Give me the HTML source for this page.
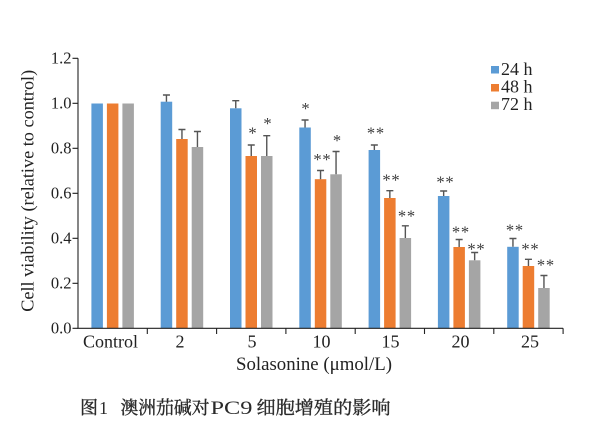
<!DOCTYPE html>
<html>
<head>
<meta charset="utf-8">
<style>
html,body{margin:0;padding:0;background:#fff;}
svg{display:block;}
text{font-family:"Liberation Serif","Noto Serif CJK SC",serif;fill:#222;}
.cap{font-family:"Liberation Serif","Noto Serif CJK SC",serif;fill:#2a2a2a;stroke:#2a2a2a;stroke-width:0.35px;}
.capl{font-family:"Liberation Serif","Noto Serif CJK SC",serif;fill:#2a2a2a;}
.st{font-size:16.5px;fill:#3a3a3a;text-anchor:middle;}
</style>
</head>
<body>
<svg width="612" height="424" viewBox="0 0 612 424" xmlns="http://www.w3.org/2000/svg">
<rect width="612" height="424" fill="#fff"/>

<!-- bars -->
<g fill="#5B9BD5">
<rect x="91.4" y="103.5" width="11.5" height="224.8"/>
<rect x="160.7" y="101.7" width="11.5" height="226.6"/>
<rect x="230.0" y="108.3" width="11.5" height="220"/>
<rect x="299.3" y="127.5" width="11.5" height="200.8"/>
<rect x="368.6" y="150" width="11.5" height="178.3"/>
<rect x="437.9" y="196" width="11.5" height="132.3"/>
<rect x="507.2" y="246.8" width="11.5" height="81.5"/>
</g>
<g fill="#ED7D31">
<rect x="106.9" y="103.5" width="11.5" height="224.8"/>
<rect x="176.2" y="139" width="11.5" height="189.3"/>
<rect x="245.5" y="156" width="11.5" height="172.3"/>
<rect x="314.8" y="179.2" width="11.5" height="149.1"/>
<rect x="384.1" y="198" width="11.5" height="130.3"/>
<rect x="453.4" y="247" width="11.5" height="81.3"/>
<rect x="522.7" y="266" width="11.5" height="62.3"/>
</g>
<g fill="#A5A5A5">
<rect x="122.4" y="103.5" width="11.5" height="224.8"/>
<rect x="191.7" y="147" width="11.5" height="181.3"/>
<rect x="261.0" y="156" width="11.5" height="172.3"/>
<rect x="330.3" y="174.3" width="11.5" height="154"/>
<rect x="399.6" y="238" width="11.5" height="90.3"/>
<rect x="468.9" y="260.3" width="11.5" height="68"/>
<rect x="538.2" y="288" width="11.5" height="40.3"/>
</g>

<!-- error bars -->
<g stroke="#555" stroke-width="1.4" fill="none">
<path d="M166.45 101.7V95M162.95 95H169.95"/>
<path d="M181.95 139V129.5M178.45 129.5H185.45"/>
<path d="M197.45 147V131.5M193.95 131.5H200.95"/>
<path d="M235.75 108.3V100.7M232.25 100.7H239.25"/>
<path d="M251.25 156V145M247.75 145H254.75"/>
<path d="M266.75 156V135.7M263.25 135.7H270.25"/>
<path d="M305.05 127.5V120M301.55 120H308.55"/>
<path d="M320.55 179.2V170.5M317.05 170.5H324.05"/>
<path d="M336.05 174.3V151.5M332.55 151.5H339.55"/>
<path d="M374.35 150V145M370.85 145H377.85"/>
<path d="M389.85 198V190.7M386.35 190.7H393.35"/>
<path d="M405.35 238V225.8M401.85 225.8H408.85"/>
<path d="M443.65 196V191M440.15 191H447.15"/>
<path d="M459.15 247V239.5M455.65 239.5H462.65"/>
<path d="M474.65 260.3V252.5M471.15 252.5H478.15"/>
<path d="M512.95 246.8V238.5M509.45 238.5H516.45"/>
<path d="M528.45 266V259.3M524.95 259.3H531.95"/>
<path d="M543.95 288V275.5M540.45 275.5H547.45"/>
</g>

<!-- significance stars -->
<g>
<text class="st" x="252.5" y="138.3">*</text>
<text class="st" x="267.5" y="129">*</text>

<text class="st" x="305.5" y="114">*</text>
<text class="st" x="317.5" y="165">*</text><text class="st" x="326.5" y="165">*</text>
<text class="st" x="337" y="146">*</text>

<text class="st" x="371" y="138.6">*</text><text class="st" x="380" y="138.6">*</text>
<text class="st" x="386.5" y="185.3">*</text><text class="st" x="395.5" y="185.3">*</text>
<text class="st" x="402" y="221.6">*</text><text class="st" x="411" y="221.6">*</text>

<text class="st" x="440.5" y="187.3">*</text><text class="st" x="449.5" y="187.3">*</text>
<text class="st" x="456" y="237.3">*</text><text class="st" x="465" y="237.3">*</text>
<text class="st" x="471.5" y="254.3">*</text><text class="st" x="480.5" y="254.3">*</text>

<text class="st" x="510" y="235.3">*</text><text class="st" x="519" y="235.3">*</text>
<text class="st" x="525.5" y="254.3">*</text><text class="st" x="534.5" y="254.3">*</text>
<text class="st" x="541" y="270.3">*</text><text class="st" x="550" y="270.3">*</text>
</g>

<!-- axes -->
<g stroke="#222" stroke-width="1.1" fill="none">
<path d="M78 58.3V328.3H563.1"/>
<path d="M72.5 58.3H78M72.5 103.3H78M72.5 148.3H78M72.5 193.3H78M72.5 238.3H78M72.5 283.3H78M72.5 328.3H78"/>
<path d="M147.3 328.3V334M216.6 328.3V334M285.9 328.3V334M355.2 328.3V334M424.5 328.3V334M493.8 328.3V334M563.1 328.3V334"/>
</g>

<!-- y tick labels -->
<g font-size="16.5" text-anchor="end">
<text x="71.5" y="63.5">1.2</text>
<text x="71.5" y="108.5">1.0</text>
<text x="71.5" y="153.5">0.8</text>
<text x="71.5" y="198.5">0.6</text>
<text x="71.5" y="243.5">0.4</text>
<text x="71.5" y="288.5">0.2</text>
<text x="71.5" y="333.5">0.0</text>
</g>

<!-- x tick labels -->
<g font-size="18" text-anchor="middle">
<text x="110.5" y="347.7">Control</text>
<text x="180" y="347.7">2</text>
<text x="252" y="347.7">5</text>
<text x="321.5" y="347.7">10</text>
<text x="390.5" y="347.7">15</text>
<text x="460.5" y="347.7">20</text>
<text x="530" y="347.7">25</text>
</g>

<!-- axis titles -->
<text x="236" y="370" font-size="18.5" textLength="156" lengthAdjust="spacingAndGlyphs">Solasonine (μmol/L)</text>
<text transform="translate(33.5,190.8) rotate(-90)" x="0" y="0" font-size="18" text-anchor="middle" textLength="242" lengthAdjust="spacingAndGlyphs">Cell viability (relative to control)</text>

<!-- legend -->
<rect x="491" y="66" width="8" height="7.5" fill="#5B9BD5"/>
<rect x="491" y="84" width="8" height="7.5" fill="#ED7D31"/>
<rect x="491" y="101.7" width="8" height="7.5" fill="#A5A5A5"/>
<g font-size="18">
<text x="501" y="75">24 h</text>
<text x="501" y="92.5">48 h</text>
<text x="501" y="110">72 h</text>
</g>

<!-- caption -->
<text class="cap" x="80" y="414" font-size="18">图</text>
<text class="capl" x="99" y="414" font-size="18">1</text>
<text class="cap" x="120.5" y="414" font-size="18" textLength="89" lengthAdjust="spacingAndGlyphs">澳洲茄碱对</text>
<text class="capl" x="210.5" y="414" font-size="19" textLength="42" lengthAdjust="spacingAndGlyphs">PC9</text>
<text class="cap" x="256.5" y="414" font-size="18" textLength="134" lengthAdjust="spacingAndGlyphs">细胞增殖的影响</text>
</svg>
</body>
</html>
